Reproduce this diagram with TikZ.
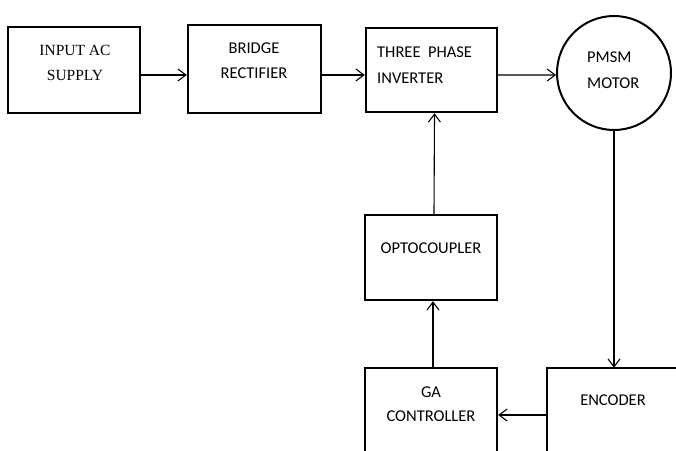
\documentclass[tikz,border=0pt]{standalone}
\usepackage{fontspec}
\setmainfont{Carlito}
\newfontfamily\serifA{Liberation Serif}
\usetikzlibrary{arrows.meta}
\begin{document}
\begin{tikzpicture}[x=1pt,y=-1pt,
  box/.style={draw, line width=2.4pt, inner sep=0pt},
  motorc/.style={draw, circle, line width=2pt, inner sep=0pt, minimum size=114pt},
  arr/.style={line width=1.1pt, -{Straight Barb[length=8pt,width=12pt,line width=1.1pt]}},
  lbl/.style={inner sep=0pt, font=\fontsize{16.5}{16.5}\selectfont}]
\fill[white] (0,0) rectangle (676,450);
\useasboundingbox (0,0) rectangle (676,450);
% boxes
\node[box, minimum width=132pt, minimum height=86pt] (in) at (74,70) {};
\node[box, minimum width=133pt, minimum height=88pt] (br) at (254.5,69) {};
\node[box, minimum width=131pt, minimum height=84pt] (inv) at (431.5,70) {};
\node[motorc] (motor) at (614,73) {};
\node[box, minimum width=132pt, minimum height=85pt] (opto) at (431,257.5) {};
\node[box, minimum width=132pt, minimum height=100pt] (ga) at (431,418) {};
\node[inner sep=0pt, minimum width=130pt, minimum height=100pt] (enc) at (612,418) {};
\draw[line width=2.4pt] (enc.south west) |- (enc.north east);
% labels
\node[lbl, anchor=base, font=\serifA\fontsize{15.5}{15.5}\selectfont] (inT1) at (75,55) {INPUT AC};
\node[lbl, anchor=base, font=\serifA\fontsize{15.5}{15.5}\selectfont] (inT2) at (75,80) {SUPPLY};
\node[lbl, anchor=base] (brT1) at (254,53) {BRIDGE};
\node[lbl, anchor=base] (brT2) at (254,78) {RECTIFIER};
\node[lbl, anchor=base west] (invT1) at (377,57) {THREE\ \ PHASE};
\node[lbl, anchor=base west] (invT2) at (377,83) {INVERTER};
\node[lbl, anchor=base west] (motT1) at (587,62) {PMSM};
\node[lbl, anchor=base west] (motT2) at (587,88) {MOTOR};
\node[lbl, anchor=base] (optoT) at (431,253) {OPTOCOUPLER};
\node[lbl, anchor=base] (gaT1) at (431,397) {GA};
\node[lbl, anchor=base] (gaT2) at (431,421) {CONTROLLER};
\node[lbl, anchor=base] (encT) at (613,405) {ENCODER};
% connectors
\coordinate (fb) at (0,415);
\draw[arr] ([yshift=-5pt]in.east) -- ([yshift=-6pt]br.west);
\draw[arr] ([yshift=-6pt]br.east) -- ([yshift=-5pt]inv.west);
\draw[arr] ([yshift=-5pt]inv.east) -- (motor.182);
\draw[arr] ([xshift=3pt]opto.north) -- ([xshift=3pt]inv.south);
\draw[arr] ([xshift=2pt]ga.north) -- ([xshift=2pt]opto.south);
\draw[arr] (motor.south) -- (motor.south |- enc.north);
\draw[arr] (enc.west |- fb) -- (ga.east |- fb);
\end{tikzpicture}
\end{document}
